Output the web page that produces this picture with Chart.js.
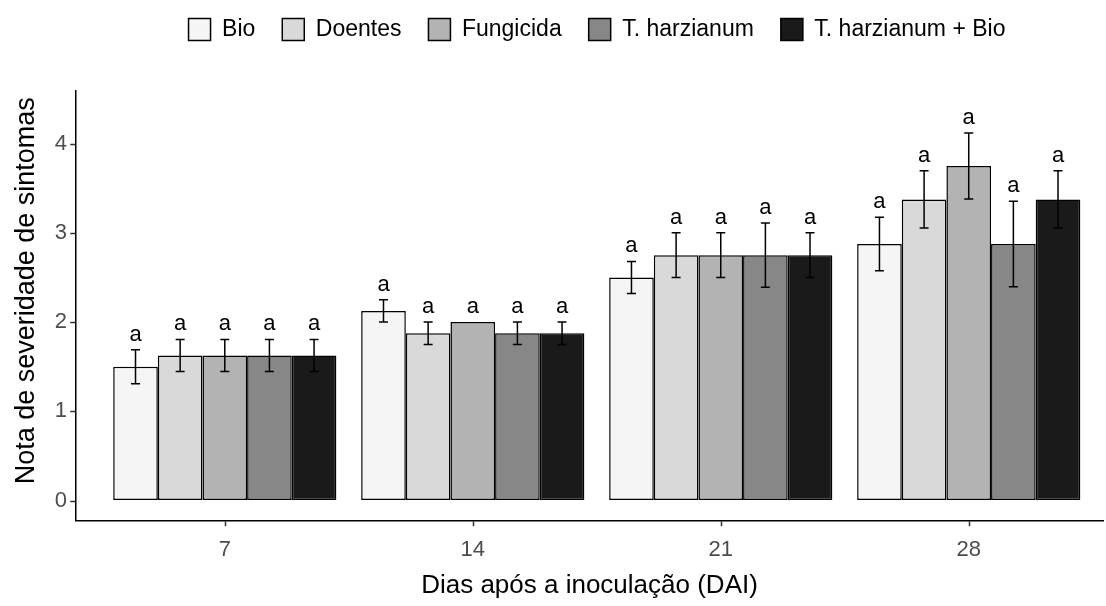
<!DOCTYPE html>
<html>
<head>
<meta charset="utf-8">
<script src="https://cdn.jsdelivr.net/npm/chart.js@4"></script>
<style>
  html, body { margin: 0; padding: 0; background: #fff; overflow: hidden; }
  canvas { display: block; }
</style>
</head>
<body>
<canvas id="c" width="1106" height="606"></canvas>
<script>
// Days after inoculation (x positions) and y tick values
const days = [7, 14, 21, 28];
const yTicks = [0, 1, 2, 3, 4];

// Treatments and their grey fills
const treatments = ['Bio', 'Doentes', 'Fungicida', 'T. harzianum', 'T. harzianum + Bio'];
const fills = ['#F5F5F5', '#D9D9D9', '#B3B3B3', '#878787', '#1A1A1A'];

// Mean symptom severity score per treatment
const bio       = [1.5,   2.125, 2.5,  2.875];
const doentes   = [1.625, 1.875, 2.75, 3.375];
const fungicida = [1.625, 2.0,   2.75, 3.75];
const tharz     = [1.625, 1.875, 2.75, 2.875];
const tharzBio  = [1.625, 1.875, 2.75, 3.375];

// Standard errors
const bioSE       = [0.19, 0.125, 0.18, 0.30];
const doentesSE   = [0.18, 0.125, 0.25, 0.32];
const fungicidaSE = [0.18, 0.0,   0.25, 0.37];
const tharzSE     = [0.18, 0.125, 0.36, 0.48];
const tharzBioSE  = [0.18, 0.125, 0.25, 0.32];

// Mean-comparison letters
const bioLetters       = ['a', 'a', 'a', 'a'];
const doentesLetters   = ['a', 'a', 'a', 'a'];
const fungicidaLetters = ['a', 'a', 'a', 'a'];
const tharzLetters     = ['a', 'a', 'a', 'a'];
const tharzBioLetters  = ['a', 'a', 'a', 'a'];

const yTitle = 'Nota de severidade de sintomas';
const xTitle = 'Dias após a inoculação (DAI)';

const FONT = '"Liberation Sans", Arial, sans-serif';

const means = [bio, doentes, fungicida, tharz, tharzBio];
const errors = [bioSE, doentesSE, fungicidaSE, tharzSE, tharzBioSE];
const letters = [bioLetters, doentesLetters, fungicidaLetters, tharzLetters, tharzBioLetters];

const datasets = treatments.map((name, k) => ({
  label: name,
  data: days.map((d, i) => ({ x: d, y: means[k][i] })),
  se: errors[k],
  letters: letters[k],
  backgroundColor: fills[k],
  borderColor: '#000',
  borderWidth: 1.5,
  borderSkipped: false,
  categoryPercentage: 0.9,
  barPercentage: 1.0
}));

// Whiskers (mean ± SE) and letters above each bar
const errorBars = {
  id: 'errorBars',
  afterDatasetsDraw(chart) {
    const { ctx } = chart;
    const y = chart.scales.y;
    ctx.save();
    ctx.strokeStyle = '#000';
    ctx.lineWidth = 1.5;
    ctx.fillStyle = '#000';
    ctx.font = '22px ' + FONT;
    ctx.textAlign = 'center';
    ctx.textBaseline = 'alphabetic';
    chart.data.datasets.forEach((ds, k) => {
      const meta = chart.getDatasetMeta(k);
      meta.data.forEach((bar, i) => {
        const v = ds.data[i].y, e = ds.se[i];
        const top = y.getPixelForValue(v + e);
        const bot = y.getPixelForValue(v - e);
        const cap = 4.5;
        if (e > 0) {
          ctx.beginPath();
          ctx.moveTo(bar.x, top); ctx.lineTo(bar.x, bot);
          ctx.moveTo(bar.x - cap, top); ctx.lineTo(bar.x + cap, top);
          ctx.moveTo(bar.x - cap, bot); ctx.lineTo(bar.x + cap, bot);
          ctx.stroke();
        }
        ctx.fillText(ds.letters[i], bar.x, top - 9);
      });
    });
    ctx.restore();
  }
};

// Outward tick marks on both axes, and the rotated y-axis title
const axisDecor = {
  id: 'axisDecor',
  afterDraw(chart) {
    const { ctx, chartArea } = chart;
    const { x, y } = chart.scales;
    const len = 5;
    ctx.save();
    ctx.strokeStyle = '#333';
    ctx.lineWidth = 1.5;
    ctx.beginPath();
    days.forEach((d) => {
      const px = Math.round(x.getPixelForValue(d)) + 0.5;
      ctx.moveTo(px, chartArea.bottom + 0.75);
      ctx.lineTo(px, chartArea.bottom + 0.75 + len);
    });
    yTicks.forEach((t) => {
      const py = Math.round(y.getPixelForValue(t)) + 0.5;
      ctx.moveTo(chartArea.left - 0.75, py);
      ctx.lineTo(chartArea.left - 0.75 - len, py);
    });
    ctx.stroke();

    ctx.translate(27, (chartArea.top + chartArea.bottom) / 2 - 15);
    ctx.rotate(-Math.PI / 2);
    ctx.font = '27px ' + FONT;
    ctx.fillStyle = '#000';
    ctx.textAlign = 'center';
    ctx.textBaseline = 'middle';
    ctx.fillText(yTitle, 0, 0);
    ctx.restore();
  }
};

// Extra room below the legend, and legend centred over the panel
const legendSpacing = {
  id: 'legendSpacing',
  afterInit(chart) {
    const lg = chart.legend;
    const fit = lg.fit;
    lg.fit = function () { fit.call(this); this.height += 31; };
  },
  afterLayout(chart) {
    const lg = chart.legend;
    lg.left += 45.5;
    lg.right += 45.5;
    lg.top -= 9;
    lg.bottom -= 9;
  }
};

new Chart(document.getElementById('c'), {
  type: 'bar',
  data: { datasets },
  plugins: [legendSpacing, errorBars, axisDecor],
  options: {
    responsive: false,
    animation: false,
    layout: { padding: { top: 0, right: 3, left: 0, bottom: 0 } },
    plugins: {
      tooltip: { enabled: false },
      legend: {
        position: 'top',
        fullSize: true,
        labels: {
          boxWidth: 22,
          boxHeight: 22,
          padding: 27,
          color: '#000',
          font: { size: 23, family: FONT }
        }
      }
    },
    scales: {
      x: {
        type: 'linear',
        min: 2.8,
        max: 31.79,
        offset: false,
        afterBuildTicks: (s) => { s.ticks = days.map(v => ({ value: v })); },
        afterFit: (s) => { s.height = 85.5; },
        grid: { offset: false, drawOnChartArea: false, drawTicks: false },
        border: { display: true, color: '#000', width: 1.5 },
        ticks: { color: '#4D4D4D', font: { size: 22, family: FONT }, padding: 16, autoSkip: false, maxRotation: 0,
                 callback: (v) => String(v) },
        title: { display: true, text: xTitle, color: '#000',
                 font: { size: 26, family: FONT }, padding: { top: 0, bottom: 5 } }
      },
      y: {
        type: 'linear',
        min: -0.224,
        max: 4.59,
        afterBuildTicks: (s) => { s.ticks = yTicks.map(v => ({ value: v })); },
        afterFit: (s) => { s.width = 76; },
        grid: { drawOnChartArea: false, drawTicks: false },
        border: { display: true, color: '#000', width: 1.5 },
        ticks: { color: '#4D4D4D', font: { size: 22, family: FONT }, padding: 9,
                 callback: (v) => String(v) },
        title: { display: false }
      }
    }
  }
});
</script>
</body>
</html>
